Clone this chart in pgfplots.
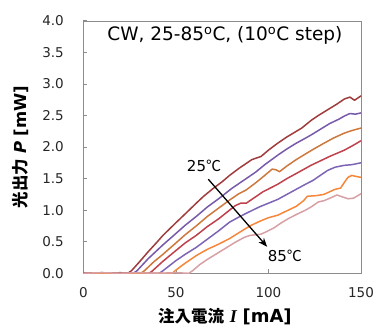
\documentclass[border=0pt]{standalone}
\usepackage{fontspec}
\setmainfont{DejaVu Sans}
\newfontfamily\cjk{Noto Sans CJK JP}
\newfontfamily\serifbi{Liberation Serif}
\usepackage{pgfplots}
\pgfplotsset{compat=1.18}
\usetikzlibrary{calc,arrows.meta}
\definecolor{cA}{HTML}{A03C3C}
\definecolor{cB}{HTML}{785AAA}
\definecolor{cC}{HTML}{CD783C}
\definecolor{cD}{HTML}{BE414B}
\definecolor{cE}{HTML}{7D64B4}
\definecolor{cF}{HTML}{F5873C}
\definecolor{cG}{HTML}{D7A0A5}
\begin{document}
\begin{tikzpicture}
\begin{axis}[
  scale only axis, width=277.7pt, height=252.6pt,
  xmin=0, xmax=150, ymin=0, ymax=4,
  xtick={0,50,100,150}, ytick={0,0.5,1,1.5,2,2.5,3,3.5,4},
  /pgf/number format/assume math mode=true,
  yticklabel style={/pgf/number format/fixed, /pgf/number format/fixed zerofill, /pgf/number format/precision=1, xshift=-16pt},
  tick label style={font=\fontsize{13.5}{15}\selectfont, text=black!85},
  xticklabel style={yshift=-11pt},
  tick align=inside, tick pos=left,
  axis line style={black!45},
  major tick style={black!45, line width=0.6pt},
  major tick length=4pt,
  every axis plot/.append style={line width=1.5pt, line join=round, no markers},
  xlabel={{\fontsize{16.5}{18}\selectfont\cjk\bfseries 注入電流} {\serifbi\bfseries\itshape I} {\bfseries [mA]}},
  ylabel={{\fontsize{16.5}{18}\selectfont\cjk\bfseries 光出力} {\bfseries\itshape P} {\bfseries [mW]}},
  xlabel style={at={(rel axis cs:0.51,0)}, anchor=center, yshift=-43.4pt, font=\fontsize{18}{20}\selectfont},
  ylabel style={at={($(rel axis cs:0,0.5)+(-63pt,0)$)}, anchor=center, font=\fontsize{16.5}{18}\selectfont},
]
% 25C
\addplot[cA] coordinates {(0,0.01)(5,0)(10,0.01)(15,0)(20,0.01)(24,0)(26,0.04)(30,0.17)(35,0.34)(40,0.50)(43,0.60)(50,0.80)(55,0.94)(61,1.11)(65,1.22)(70,1.34)(75,1.45)(79,1.55)(84,1.66)(88,1.74)(91,1.80)(94,1.83)(96,1.85)(100,1.95)(105,2.06)(110,2.16)(114,2.23)(118,2.30)(123,2.42)(127,2.50)(132,2.59)(137,2.68)(141,2.76)(144,2.79)(146.5,2.74)(148,2.77)(150,2.81)};
% 35C
\addplot[cB] coordinates {(0,0)(27,0)(29,0.04)(35,0.23)(43,0.45)(50,0.63)(55,0.76)(61,0.90)(67,1.05)(74,1.20)(80,1.34)(84,1.42)(88,1.50)(93,1.60)(98,1.72)(105,1.87)(110,1.97)(115,2.06)(120,2.14)(123,2.19)(128,2.28)(133,2.37)(138,2.44)(141,2.49)(144,2.53)(147,2.52)(150,2.54)};
% 45C
\addplot[cC] coordinates {(0,0)(31,0)(33,0.04)(38,0.18)(43,0.30)(50,0.48)(55,0.61)(61,0.75)(67,0.90)(73,1.03)(79,1.16)(84,1.26)(88,1.32)(93,1.43)(98,1.55)(102,1.65)(104,1.64)(106,1.61)(110,1.70)(115,1.80)(120,1.89)(124,1.96)(130,2.06)(135,2.14)(141,2.22)(145,2.26)(150,2.30)};
% 55C
\addplot[cD] coordinates {(0,0)(35.5,0)(37,0.03)(43,0.19)(50,0.36)(55,0.48)(61,0.60)(67,0.74)(73,0.86)(79,1.00)(82,1.07)(85,1.11)(88,1.11)(92,1.19)(97,1.29)(105,1.41)(110,1.50)(115,1.58)(123,1.71)(128,1.78)(133,1.85)(141,1.95)(146,2.03)(150,2.10)};
% 65C
\addplot[cE] coordinates {(0,0)(41,0)(43,0.04)(50,0.20)(55,0.30)(61,0.41)(67,0.54)(73,0.67)(79,0.81)(84,0.89)(88,0.95)(95,1.05)(100,1.11)(105,1.17)(110,1.25)(115,1.33)(120,1.41)(124,1.47)(128,1.55)(132,1.63)(136,1.68)(141,1.71)(145,1.72)(150,1.75)};
% 75C
\addplot[cF] coordinates {(0,0)(48,0)(50,0.05)(55,0.16)(61,0.28)(67,0.38)(73,0.46)(79,0.55)(85,0.66)(90,0.75)(95,0.82)(100,0.88)(105,0.92)(110,0.99)(115,1.06)(119,1.15)(121,1.22)(126,1.23)(130,1.25)(133,1.29)(136,1.33)(139,1.35)(141,1.44)(143,1.52)(145,1.55)(148,1.53)(150,1.52)};
% 85C
\addplot[cG] coordinates {(0,0)(10,0.01)(20,0)(30,0.01)(40,0)(50,0.01)(57,0)(59,0.04)(63,0.14)(67,0.22)(72,0.31)(77,0.40)(82,0.49)(87,0.57)(90,0.60)(93,0.61)(96,0.62)(99,0.66)(103,0.72)(107,0.80)(111,0.87)(115,0.93)(120,1.00)(123,1.05)(127,1.13)(130,1.15)(134,1.20)(137,1.24)(140,1.21)(143,1.18)(146,1.19)(150,1.26)};
\draw[-{Stealth[length=9pt,width=7pt]}, line width=1.3pt] (axis cs:67.5,1.49) -- (axis cs:99.3,0.42);
\node[font=\fontsize{15}{17}\selectfont] at (axis cs:65.2,1.70) {25{\cjk ℃}};
\node[font=\fontsize{15}{17}\selectfont] at (axis cs:108.9,0.27) {85{\cjk ℃}};
\node[font=\fontsize{18.5}{20}\selectfont] at (rel axis cs:0.51,0.94) {CW, 25-85\textsuperscript{o}C, (10\textsuperscript{o}C step)};
\end{axis}
\pgfresetboundingbox
\path ($(current axis.south west)+(-83.3pt,-53.7pt)$) rectangle ($(current axis.south west)+(290.7pt,273.3pt)$);
\end{tikzpicture}
\end{document}
